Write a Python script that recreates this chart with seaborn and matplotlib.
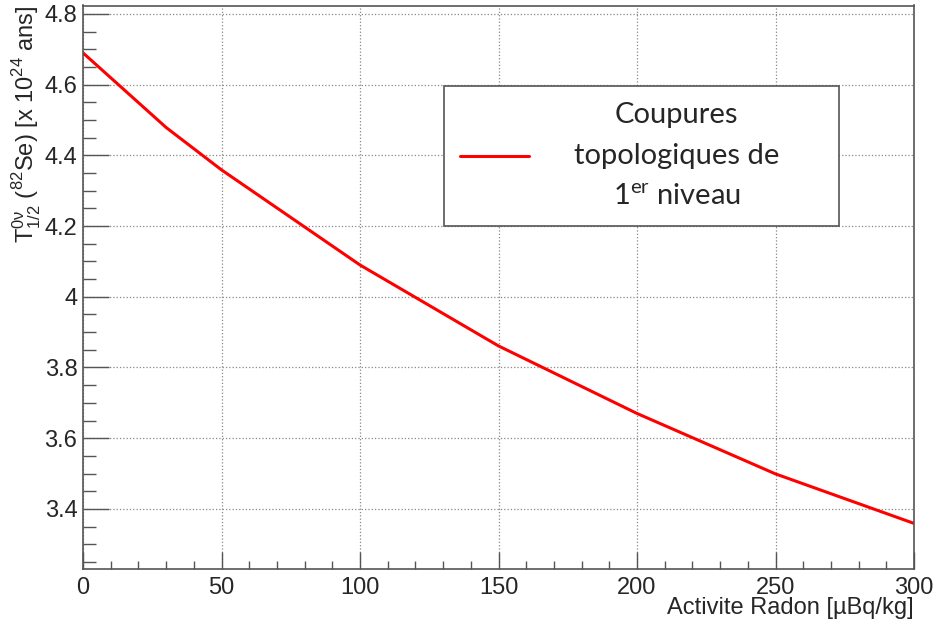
import numpy as np
import pandas as pd
import seaborn as sns
import matplotlib.pyplot as plt
from matplotlib.ticker import MultipleLocator, FuncFormatter

# activite radon (uBq/kg) et demi-vie correspondante (x 1e24 ans)
activite = [0, 30, 50, 100, 150, 200, 250, 300]
demi_vie = [4.690, 4.479, 4.359, 4.090, 3.861, 3.670, 3.499, 3.359]
label_legende = "Coupures\ntopologiques de\n1$^{\\mathdefault{er}}$ niveau"

df = pd.DataFrame({"Activite": activite, "T12": demi_vie})

sns.set_style("white")
plt.rcParams['font.family'] = ['Liberation Sans', 'DejaVu Sans']
plt.rcParams['mathtext.fontset'] = 'dejavusans'

fig = plt.figure(figsize=(9.35, 6.23), dpi=100)
ax = fig.add_axes([83 / 935, 1 - 569 / 623, 831 / 935, 563.5 / 623])

sns.lineplot(data=df, x="Activite", y="T12", color="#ff0000", linewidth=2.2,
             label=label_legende, ax=ax)

ax.set_xlim(0, 300)
ax.set_ylim(3.230, 4.824)

ax.xaxis.set_major_locator(MultipleLocator(50))
ax.xaxis.set_minor_locator(MultipleLocator(10))
ax.yaxis.set_major_locator(MultipleLocator(0.2))
ax.yaxis.set_minor_locator(MultipleLocator(0.05))
ax.yaxis.set_major_formatter(FuncFormatter(lambda v, p: "%g" % round(v, 2)))

gris = "#555555"
ax.tick_params(axis="y", which="both", left=True, right=False)
ax.tick_params(axis="x", which="both", bottom=True, top=False)
ax.tick_params(axis="y", which="major", direction="in", length=19, width=1,
               color=gris, labelsize=17, pad=4)
ax.tick_params(axis="y", which="minor", direction="in", length=9, width=1, color=gris)
ax.tick_params(axis="x", which="major", direction="in", length=12, width=1,
               color=gris, labelsize=17, pad=6)
ax.tick_params(axis="x", which="minor", direction="in", length=6, width=1, color=gris)

for s in ax.spines.values():
    s.set_visible(True)
    s.set_color(gris)
    s.set_linewidth(1.2)

ax.grid(True, which="major", linestyle=":", color="#888888", linewidth=0.9)

ax.set_xlabel("Activite Radon [µBq/kg]", fontsize=17, loc="right")
ax.xaxis.set_label_coords(1.0, -0.05)
ax.set_ylabel("T$^{\\mathdefault{0ν}}_{\\mathdefault{1/2}}$ ($^{\\mathdefault{82}}$Se) "
              "[x 10$^{\\mathdefault{24}}$ ans]", fontsize=17, loc="top")
ax.yaxis.set_label_coords(-0.048, 1.0)

leg = ax.legend(loc="upper left", bbox_to_anchor=(0.4344, 0.607, 0.4753, 0.25),
                mode="expand", fancybox=False, framealpha=1, edgecolor=gris,
                handlelength=2.35, handletextpad=1.55, borderpad=0.55,
                borderaxespad=0, prop={"family": "Lato", "size": 21})
leg.get_frame().set_linewidth(1.2)
for t in leg.get_texts():
    t.set_multialignment("center")
    t.set_linespacing(1.7)

fig.savefig("out.png", dpi=100)
